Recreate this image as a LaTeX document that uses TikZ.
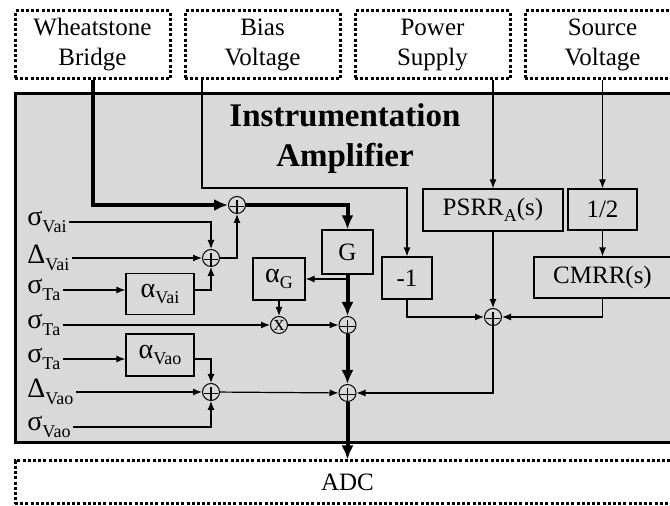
\documentclass[tikz,border=0pt]{standalone}
\usepackage{fontspec}
\setmainfont{Liberation Serif}
\usetikzlibrary{arrows.meta,positioning}
\newcommand{\subtxt}[1]{\raisebox{-0.55ex}{\fontsize{9}{9}\selectfont #1}}
\newcommand{\gk}[1]{{\fontsize{14}{15}\selectfont #1}}

\begin{document}
\begin{tikzpicture}[x=0.5pt,y=-0.5pt,>=Latex,font=\fontsize{12.5}{15}\selectfont]
  \tikzstyle{srcbox}=[draw,line width=1.5pt,dash pattern=on 1.5pt off 1.1pt,minimum width=77.5pt,minimum height=34pt,align=center,inner sep=0pt]
  \tikzstyle{blk}=[draw,line width=0.6pt,inner sep=0pt]
  \tikzstyle{sumnode}=[draw,circle,line width=0.5pt,minimum size=8.5pt,inner sep=0pt,
    path picture={\draw[line width=0.6pt] ([shift={(-3.6pt,-0.8pt)}]path picture bounding box.center) -- ([shift={(3.6pt,-0.8pt)}]path picture bounding box.center);
      \draw[line width=0.6pt] ([shift={(0pt,2.6pt)}]path picture bounding box.center) -- ([shift={(0pt,-4.2pt)}]path picture bounding box.center);}]
  \tikzstyle{mulnode}=[draw,circle,line width=0.5pt,minimum size=8.5pt,inner sep=0pt,font=\fontsize{11}{11}\selectfont]
  \tikzstyle{lbl}=[anchor=west,inner sep=1pt]
  \tikzstyle{sig}=[line width=0.6pt,-{Latex[length=4.5pt,width=3.5pt]}]
  \tikzstyle{main}=[line width=2pt,-{Latex[length=7pt,width=6pt]}]
  \useasboundingbox (0,0) rectangle (670,506);
  \clip (0,0) rectangle (670,506);
  % amplifier frame
  \draw[line width=1.5pt,fill=black!15] (15,94) rectangle (690,443);
  \node[font=\fontsize{16.5}{20}\selectfont\bfseries,align=center] (title) at (345,139) {Instrumentation\\Amplifier};
  % sources and sink
  \node[srcbox] (wb) at (92.5,45) {Wheatstone\\Bridge};
  \node[srcbox] (bias) at (262.5,45) {Bias\\Voltage};
  \node[srcbox] (ps) at (432.5,45) {Power\\Supply};
  \node[srcbox] (sv) at (602.5,45) {Source\\Voltage};
  \node[srcbox,minimum width=332.5pt,minimum height=21.5pt] (adc) at (347.5,482.5) {ADC};
  \coordinate (biasout) at (202,79);
  % blocks
  \node[blk,minimum width=34pt,minimum height=20.5pt] (avai) at (160,294) {\gk{α}\subtxt{Vai}};
  \node[blk,minimum width=34pt,minimum height=21pt] (avao) at (160,355) {\gk{α}\subtxt{Vao}};
  \node[blk,minimum width=25.5pt,minimum height=22pt] (G) at (347.5,252) {G};
  \node[blk,minimum width=26pt,minimum height=21pt] (aG) at (279,279) {\gk{α}\subtxt{G}};
  \node[blk,minimum width=25pt,minimum height=21pt] (neg) at (407,278) {-1};
  \node[blk,minimum width=70pt,minimum height=21pt] (psrr) at (493,210) {PSRR\subtxt{A}(s)};
  \node[blk,minimum width=34.5pt,minimum height=20.5pt] (half) at (602.5,209.5) {1/2};
  \node[blk,minimum width=68.5pt,minimum height=20.5pt] (cmrr) at (602.5,277.5) {CMRR(s)};
  % summing points
  \node[sumnode] (s1) at (211,258) {};
  \node[sumnode] (s2) at (237,205) {};
  \node[mulnode] (mul) at (279,325) {x};
  \node[sumnode] (s3) at (347.5,325) {};
  \node[sumnode] (sL) at (211,392) {};
  \node[sumnode] (s4) at (347.5,393) {};
  \node[sumnode] (sR) at (493,317) {};
  % error inputs
  \node[lbl] (svai) at (25,222) {\gk{σ}\subtxt{Vai}};
  \node[lbl] (dvai) at (25,258) {\gk{Δ}\subtxt{Vai}};
  \node[lbl] (sta1) at (25,290) {\gk{σ}\subtxt{Ta}};
  \node[lbl] (sta2) at (25,325) {\gk{σ}\subtxt{Ta}};
  \node[lbl] (sta3) at (25,359) {\gk{σ}\subtxt{Ta}};
  \node[lbl] (dvao) at (25,392) {\gk{Δ}\subtxt{Vao}};
  \node[lbl] (svao) at (25,427) {\gk{σ}\subtxt{Vao}};
  % signal path
  \draw[main] (wb) |- (s2);
  \draw[main] (s2) -| (G);
  \foreach \a/\b in {G/s3,s3/s4}
    \draw[main] (\a) -- (\b);
  \draw[main] (s4) -- (s4 |- adc.north);
  % error paths
  \foreach \a/\b in {dvai/s1,aG/mul,sta2/mul,mul/s3,dvao/sL,sL/s4,sv/half,half/cmrr,psrr/sR}
    \draw[sig] (\a) -- (\b);
  \foreach \a/\b in {svai/s1,s1/s2,svao/sL}
    \draw[sig] (\a) -| (\b);
  \foreach \a/\b in {neg/sR,cmrr/sR,sR/s4}
    \draw[sig] (\a) |- (\b);
  \draw[sig] (sta1) -- (sta1 -| avai.west);
  \draw[sig] (avai.east |- sta1) -| (s1);
  \draw[sig] (sta3) -- (sta3 -| avao.west);
  \draw[sig] (avao.east |- sta3) -| (sL);
  \draw[sig] (aG.east -| G.south) -- (aG.east);
  \draw[sig] (biasout) -- (202,188) -| (neg);
  \draw[sig] (ps.south -| psrr) -- (psrr);
\end{tikzpicture}
\end{document}
